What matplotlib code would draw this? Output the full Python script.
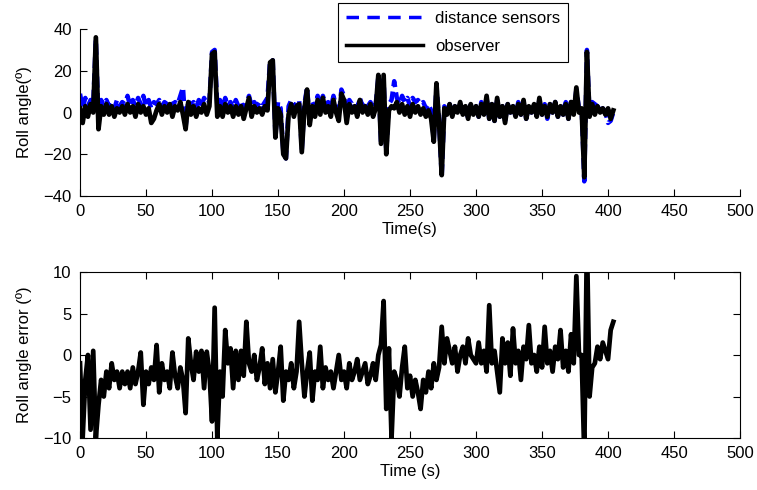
import numpy as np
import matplotlib
matplotlib.use("Agg")
import matplotlib.pyplot as plt

plt.rcParams["font.family"] = ["Liberation Sans", "DejaVu Sans"]

# time grid (s), one sample every 2 s
time_s = np.arange(0, 405, 2)

# roll angle from distance sensors (deg)
sensors = [
    9, 2, 7, 3, 6, 4, 35, -5, 6, 3,
    6, 3, 5, 2, 6, 3, 5, 4, 8, 3,
    6, 3, 7, 4, 8, 3, 6, 2, 5, 4,
    6, 3, 5, 4, 6, 3, 5, 4, 8, 12,
    -7, 6, 3, 5, 2, 6, 3, 7, 4, 5,
    29, 30, 3, 6, 2, 7, 3, 5, 2, 6,
    3, 5, 2, 4, 8, 3, 5, 3, 5, 3,
    5, 7, 25, 25, -11, 5, 2, -19, -22, 3,
    6, 2, 5, 6, -18, 4, 12, -4, 5, 2,
    8, 3, 8, 4, 5, 2, 8, 3, -2, 11,
    8, -3, 6, 4, 5, 2, 7, 3, 5, 3,
    5, 2, 4, 17, -14, 16, -19, 4, 6, 15,
    7, 4, 8, 5, 7, 3, 7, 5, 6, 4,
    5, 2, 4, 1, -13, 13, -4, -31, 3, 0,
    4, -1, 3, 1, 4, 0, 3, -3, 4, 0,
    3, -2, 5, -1, 7, -3, 4, -4, 6, -2,
    3, -4, 4, 0, 3, -2, 5, -1, 5, -3,
    3, 0, 4, -2, 6, -1, 4, -3, 4, 0,
    5, -2, 4, -1, 5, -3, 5, 0, 11, 2,
    3, -33, 30, -1, 5, 4, 3, 1, 2, 0,
    -5, -4, 0,
]

# roll angle from observer (deg)
observer = [
    2, -5, 3, -2, 4, 0, 36, -8, 3, -1,
    4, -1, 3, -2, 2, 0, 3, -1, 4, 0,
    3, -2, 4, 0, 3, -1, 2, -5, -3, 1,
    4, -1, 3, 0, 4, -2, 3, 1, 5, -1,
    -8, 5, -1, 3, -2, 2, 0, 4, -1, 3,
    28, 29, -2, 3, -2, 4, 0, 3, -2, 3,
    -1, 3, -3, 2, 7, -2, 3, 0, 2, -1,
    3, 1, 24, 25, -12, 2, -1, -20, -22, -1,
    4, -2, 3, 4, -19, 2, 11, -6, 3, -2,
    6, -1, 7, 0, 3, -2, 6, 0, -4, 9,
    6, -5, 4, 0, 3, -2, 6, 0, 3, -1,
    4, -2, 2, 18, -15, 18, -20, 1, 3, 2,
    5, 0, 4, -1, 3, -2, 4, 0, 3, -1,
    2, -2, 1, -3, -14, 14, -5, -30, 2, -1,
    4, -2, 3, 0, 5, -1, 3, -3, 4, -1,
    3, -2, 4, -1, 8, -3, 4, -4, 7, -2,
    3, -5, 4, 0, 3, -2, 4, -1, 6, -3,
    3, 0, 4, -2, 7, -1, 3, -2, 4, 0,
    5, -2, 3, -1, 4, -3, 5, -1, 12, 0,
    2, -31, 29, -2, 4, -1, 3, 0, 2, -1,
    2, -3, 1,
]

# roll angle error (deg)
error = [
    -1, -10, -3, 0, -9, 0.5, -10, -6, -3, -5,
    -2, -4, -1, -3, -2, -4, -2, -3.5, -2, -4,
    -1.5, -3.5, -2, 0.3, -6, -2, -3.5, -1.5, -3, 1.2,
    -4.5, -1, -3, -2, -4, 0.3, -2.5, -4, -1.5, -3,
    -7, 2, -1, -3, 0.4, -2, 0.5, -4, 0.4, -2,
    -8, 5.7, -10, -2, -5, 3, -1, 0.8, -4, 0.5,
    -3, 0.5, -2.5, 4, -1, -2, 0, -3, -1.5, 0.8,
    -3.5, -1, -4, -0.5, -4.5, -2, 1, -5.5, -2, -3,
    -1, -4, -2, 4, -1, -5, -2, 0.3, -5.5, -2,
    -3, 1, -4, -1.5, -3, -2, -4, -2, 0, -3,
    -2, -4, -1, -3, -2, -0.5, -3, -2, -1, -3.5,
    -2.5, -1, -3, 0, 1.2, 6.5, -6.5, 0.8, -10, -2,
    -3, -5, -1.5, 1, -4, -2.5, -5, -3, -4.5, -6.5,
    -3, -4.5, -2, -4, -1, -3, -1.5, 3.4, -1, 2,
    0.5, -1, 1, -2, 0, 1, -1, 2, 0, -0.5,
    -1, 1.5, -1, 0.5, -2, 6, -1, 0.5, -2, -4.5,
    2, -1, 1.5, -2.5, 3.2, -1, 0.5, -3, 1, -0.5,
    3.6, -1, 0, -2, 1, -1.5, 3.4, -1, 0.5, -2,
    1, -0.5, 3, -1.5, 0.5, -2, 2.5, -1, 9.5, 0,
    0, -12, 14, -5, -1.5, -1, 1, -0.5, 1.5, 0.5,
    -0.5, 3, 4,
]

fig = plt.figure(figsize=(7.57, 4.9), dpi=100)

ax1 = fig.add_axes([0.1057, 0.6, 0.8719, 0.3408])
ax1.plot(time_s, sensors, color="blue", linestyle="--", linewidth=3.2,
         dashes=(2.5, 1.2), label="distance sensors")
ax1.plot(time_s, observer, color="black", linewidth=3.4, label="observer")
ax1.set_xlim(0, 500)
ax1.set_ylim(-40, 40)
ax1.set_xticks(range(0, 501, 50))
ax1.set_yticks([-40, -20, 0, 20, 40])
ax1.set_xlabel("Time(s)", fontsize=12, labelpad=2)
ax1.set_ylabel("Roll angle(º)", fontsize=12, labelpad=8)
ax1.spines["top"].set_visible(False)
ax1.spines["right"].set_visible(False)
ax1.tick_params(direction="in", labelsize=12, length=5, pad=6)
leg = ax1.legend(loc="upper left", bbox_to_anchor=(0.391, 1.156),
                 borderaxespad=0, fancybox=False, framealpha=1,
                 edgecolor="black", fontsize=12, handlelength=4.6,
                 handletextpad=0.7, labelspacing=0.75, borderpad=0.5)
leg.get_frame().set_linewidth(0.8)
leg.get_lines()[0].set_linewidth(2.5)
leg.get_lines()[0].set_dashes((3.6, 2.4))
leg.get_lines()[1].set_linewidth(2.5)

ax2 = fig.add_axes([0.1057, 0.1061, 0.8719, 0.3388])
ax2.plot(time_s, error, color="black", linewidth=3.4)
ax2.set_xlim(0, 500)
ax2.set_ylim(-10, 10)
ax2.set_xticks(range(0, 501, 50))
ax2.set_yticks([-10, -5, 0, 5, 10])
ax2.set_xlabel("Time (s)", fontsize=12, labelpad=2)
ax2.set_ylabel("Roll angle error (º)", fontsize=12, labelpad=8)
ax2.tick_params(direction="in", labelsize=12, length=5, pad=6,
                top=True, right=True)

fig.savefig("out.png", dpi=100)
